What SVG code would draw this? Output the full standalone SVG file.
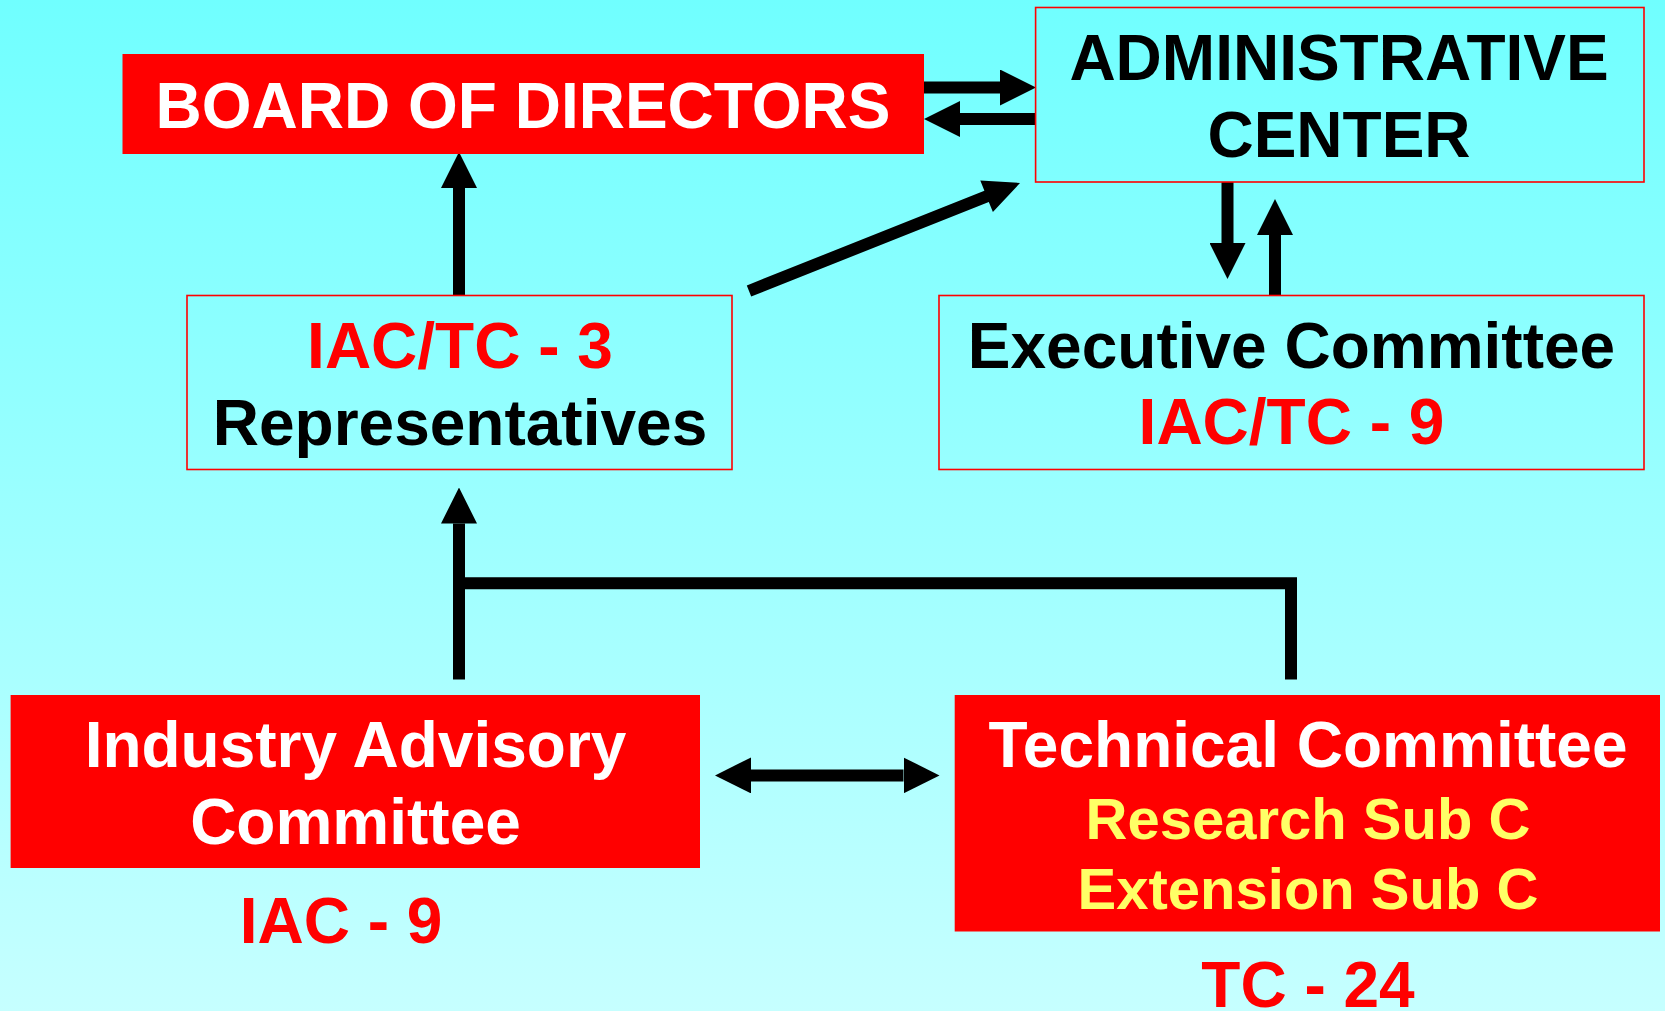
<svg xmlns="http://www.w3.org/2000/svg" width="1665" height="1011" viewBox="0 0 1665 1011">
<defs>
<linearGradient id="bg" x1="0" y1="0" x2="0" y2="1">
<stop offset="0" stop-color="#70FFFF"/>
<stop offset="1" stop-color="#C6FFFF"/>
</linearGradient>
<marker id="ah" viewBox="0 0 36 36" markerWidth="36" markerHeight="36" refX="0" refY="18" orient="auto-start-reverse" markerUnits="userSpaceOnUse">
<path d="M0,0 L36,18 L0,36 Z" fill="#000"/>
</marker>
<style>
text{font-family:"Liberation Sans",Arial,Helvetica,sans-serif;font-weight:bold;font-size:64px;text-anchor:middle}
.w{fill:#FFFFFF}.k{fill:#000000}.r{fill:#FF0000}.y{fill:#FFFF66;font-size:58px}
.solid{fill:#FF0000;stroke:none}
.outline{fill:none;stroke:#FF0000;stroke-width:1.6}
.conn{stroke:#000;stroke-width:12;fill:none}
</style>
</defs>
<rect x="0" y="0" width="1665" height="1011" fill="url(#bg)"/>

<g id="connectors">
<line class="conn" x1="924" y1="87.5" x2="1000" y2="87.5" marker-end="url(#ah)"/>
<line class="conn" x1="1035.6" y1="119" x2="960" y2="119" marker-end="url(#ah)"/>
<line class="conn" x1="1227.5" y1="182" x2="1227.5" y2="243" marker-end="url(#ah)"/>
<line class="conn" x1="1275" y1="295" x2="1275" y2="235" marker-end="url(#ah)"/>
<line class="conn" x1="459" y1="295" x2="459" y2="188" marker-end="url(#ah)"/>
<polygon points="746.8,285.4 984.4,190.7 980.3,180.5 1020,183 992.9,212.1 988.8,201.9 751.2,296.6" fill="#000"/>
<line class="conn" x1="459" y1="679.5" x2="459" y2="523.5" marker-end="url(#ah)"/>
<path class="conn" d="M459,583.3 H1291 V679.5"/>
<line class="conn" x1="751" y1="775.4" x2="903.5" y2="775.4" marker-start="url(#ah)" marker-end="url(#ah)"/>
</g>

<g id="board">
<rect class="solid" x="122.5" y="54" width="801.5" height="100"/>
<text class="w" x="523" y="128">BOARD OF DIRECTORS</text>
</g>

<g id="admin">
<rect class="outline" x="1035.6" y="7.5" width="608.4" height="174.5"/>
<text class="k" x="1339" y="80">ADMINISTRATIVE</text>
<text class="k" x="1339" y="156.5">CENTER</text>
</g>

<g id="reps">
<rect class="outline" x="187" y="295.5" width="545" height="174"/>
<text class="r" x="460" y="368">IAC/TC - 3</text>
<text class="k" x="460" y="445">Representatives</text>
</g>

<g id="exec">
<rect class="outline" x="939" y="295.5" width="705" height="174"/>
<text class="k" x="1291.5" y="368">Executive Committee</text>
<text class="r" x="1291.5" y="444">IAC/TC - 9</text>
</g>

<g id="iac">
<rect class="solid" x="10.6" y="695" width="689.4" height="173"/>
<text class="w" x="355.5" y="767">Industry Advisory</text>
<text class="w" x="355.5" y="844">Committee</text>
<text class="r" x="341" y="943">IAC - 9</text>
</g>

<g id="tc">
<rect class="solid" x="954.7" y="695" width="705.3" height="236.5"/>
<text class="w" x="1308" y="767">Technical Committee</text>
<text class="y" x="1308" y="838.5">Research Sub C</text>
<text class="y" x="1308" y="909">Extension Sub C</text>
<text class="r" x="1308" y="1007">TC - 24</text>
</g>
</svg>
